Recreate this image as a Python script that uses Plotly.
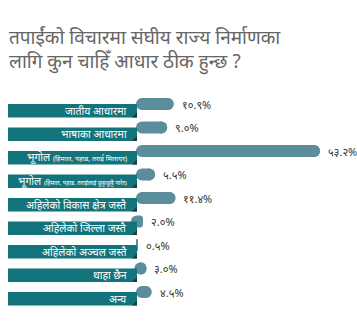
import plotly.graph_objects as go

categories = [
    "जातीय आधारमा",
    "भाषाका आधारमा",
    "भूगोल <span style='font-size:7px'>(हिमाल, पहाड, तराई मिलाएर)</span>",
    "भूगोल <span style='font-size:6px'>(हिमाल, पहाड, तराईलाई छुट्टाछुट्टै पारेर)</span>",
    "अहिलेको विकास क्षेत्र जस्तै",
    "अहिलेको जिल्ला जस्तै",
    "अहिलेको अञ्चल जस्तै",
    "थाहा छैन",
    "अन्य",
]
values = [10.9, 9.0, 53.2, 5.5, 11.4, 2.0, 0.5, 3.0, 4.5]

title_lines = ["तपाईंको विचारमा संघीय राज्य निर्माणका", "लागि कुन चाहिँ आधार ठीक हुन्छ ?"]

DEV = str.maketrans("0123456789", "०१२३४५६७८९")
def dev(v):
    return f"{v:.1f}%".translate(DEV)

W, H = 357, 335
TEAL = "#13747b"
BAR = "#5b8d9c"
ROW = 23.5
X0 = 136      # pixel of zero
K = 3.46      # px per percent
top_val = -104 / ROW
bot_val = top_val + H / ROW

idx = list(range(len(values)))
fig = go.Figure()
fig.add_trace(go.Bar(
    x=values, y=idx, orientation="h", base=0,
    marker=dict(color=BAR, line=dict(width=0)),
    width=12 / ROW, hoverinfo="skip",
))
# rounded caps at bar ends
fig.add_trace(go.Scatter(
    x=[v - 6 / K for v in values], y=idx, mode="markers",
    marker=dict(symbol="circle", size=12, color=BAR, line=dict(width=0)),
    hoverinfo="skip", cliponaxis=False,
))

shapes = []
annotations = []
for i, (c, v) in enumerate(zip(categories, values)):
    y0 = i - 0.0
    y1 = i + 13.5 / ROW
    shapes.append(dict(type="rect", xref="paper", yref="y",
                       x0=8 / W, x1=137 / W, y0=y0, y1=y1,
                       fillcolor=TEAL, line=dict(width=0), layer="above"))
    shapes.append(dict(type="path", xref="paper", yref="y",
                       path=f"M {132/W},{y1} L {137/W},{y1} L {137/W},{y1 - 5/ROW} Z",
                       fillcolor="#1d3c42", line=dict(width=0), layer="above"))
    annotations.append(dict(xref="paper", yref="y", x=129 / W, y=(y0 + y1) / 2,
                            text=c, showarrow=False, xanchor="right", yanchor="middle",
                            font=dict(color="white", size=10.5)))
    annotations.append(dict(xref="x", yref="y", x=v, y=i, text=dev(v),
                            showarrow=False, xanchor="left", yanchor="middle", xshift=6,
                            font=dict(color="#333333", size=11)))

annotations.append(dict(xref="paper", yref="paper", x=7 / W, y=1 - 37 / H,
                        text=title_lines[0], showarrow=False, xanchor="left", yanchor="middle",
                        font=dict(color="#666666", size=19)))
annotations.append(dict(xref="paper", yref="paper", x=7 / W, y=1 - 61 / H,
                        text=title_lines[1], showarrow=False, xanchor="left", yanchor="middle",
                        font=dict(color="#666666", size=19)))

fig.update_layout(
    width=W, height=H, margin=dict(l=0, r=0, t=0, b=0),
    paper_bgcolor="white", plot_bgcolor="white",
    showlegend=False, barcornerradius=6,
    font=dict(family="Noto Sans, sans-serif"),
    xaxis=dict(domain=[X0 / W, 1], range=[0, (W - X0) / K], visible=False, fixedrange=True),
    yaxis=dict(range=[bot_val, top_val], visible=False, fixedrange=True),
    shapes=shapes, annotations=annotations,
)
fig.write_html("out.html")
